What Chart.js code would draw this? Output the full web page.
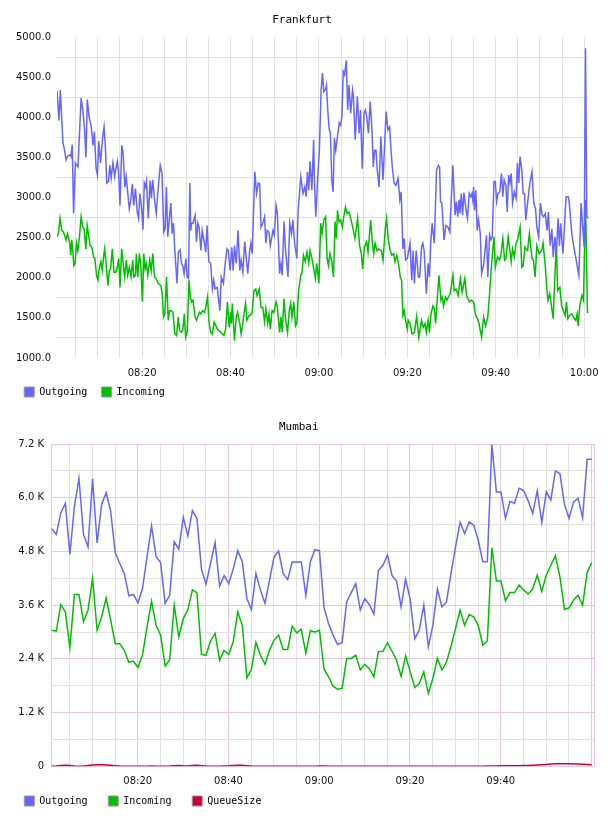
<!DOCTYPE html>
<html>
<head>
<meta charset="utf-8">
<title>Frankfurt / Mumbai traffic</title>
<script src="https://cdn.jsdelivr.net/npm/chart.js@4.4.1/dist/chart.umd.min.js"></script>
<style>
  html, body { margin: 0; padding: 0; background: #fff; }
  canvas { display: block; }
</style>
</head>
<body>
<canvas id="frankfurt" width="608" height="407"></canvas>
<canvas id="mumbai" width="608" height="409"></canvas>
<script>
// minutes after 08:00 -> value
const frankfurtOutgoing = [
  [0.75,4330],[1.2,3960],[1.5,4340],[2.1,3680],[2.4,3610],[2.8,3470],[3.2,3520],[3.7,3530],[3.9,3510],[4.2,3660],
  [4.5,2800],[4.9,3430],[5.5,3380],[6.2,4240],[6.6,4090],[7.0,3840],[7.3,3500],[7.6,4220],[8.0,4010],[8.5,3880],
  [8.9,3650],[9.2,3820],[9.6,3360],[9.9,3280],[10.2,3700],[10.6,3430],[11.1,3760],[11.4,3880],[11.7,3630],[12.0,3180],
  [12.4,3200],[12.7,3400],[13.0,3240],[13.4,3430],[13.8,3260],[14.0,3340],[14.4,3450],[14.7,3300],[15.0,2900],[15.4,3650],
  [15.7,3550],[16.1,3130],[16.4,3260],[16.7,3090],[17.1,2860],[17.4,2950],[17.8,3170],[18.1,2900],[18.5,3110],[18.9,2820],
  [19.2,2740],[19.5,3050],[19.9,2860],[20.2,2600],[20.5,3180],[20.8,3130],[21.0,3200],[21.4,2740],[21.8,3210],[22.1,2990],
  [22.4,3220],[22.9,2930],[23.2,2800],[23.6,3090],[24.1,3400],[24.5,3300],[24.9,2570],[25.2,2610],[25.5,3130],[25.8,2510],
  [26.1,2700],[26.5,2930],[26.8,2550],[27.1,2680],[27.4,2340],[27.9,1930],[28.2,2320],[28.6,2350],[28.9,2180],[29.2,2150],
  [29.5,2050],[29.9,2240],[30.2,2010],[30.5,1990],[30.8,3180],[31.0,2590],[31.2,2680],[31.5,2680],[32.0,2780],[32.3,2450],
  [32.6,2680],[32.9,2630],[33.3,2340],[33.6,2590],[34.1,2430],[34.4,2320],[34.7,2650],[35.1,2200],[35.5,2180],[35.9,1860],
  [36.2,1970],[36.5,1860],[37.0,1880],[37.6,1590],[37.9,2010],[38.4,1930],[38.8,2180],[39.2,2360],[39.5,2340],[39.9,2090],
  [40.3,2380],[40.6,2090],[40.9,2400],[41.3,2180],[41.7,2590],[42.1,2090],[42.4,2220],[42.8,2070],[43.2,2450],[43.6,2220],
  [43.9,2050],[44.3,2320],[44.6,2430],[44.9,2300],[45.5,3320],[45.9,3050],[46.3,3180],[46.6,3170],[46.9,2630],[47.3,2680],
  [47.7,2760],[48.0,2430],[48.3,2590],[48.7,2570],[49.0,2400],[49.6,2590],[49.9,2530],[50.3,2900],[50.6,2800],[51.1,2050],
  [51.4,2180],[51.7,2030],[52.1,2700],[52.4,2380],[53.0,2010],[53.4,2680],[53.8,2550],[54.1,2720],[54.5,2430],[55.0,2240],
  [55.3,2840],[55.9,3260],[56.4,3050],[56.8,3130],[57.1,3010],[57.4,3320],[57.7,3090],[58.0,3450],[58.4,3090],[58.8,3720],
  [59.0,3180],[59.3,2760],[59.7,3220],[60.1,3590],[60.5,4340],[60.8,4550],[61.1,4320],[61.5,4350],[61.7,4400],[62.0,4090],
  [62.3,3860],[62.6,3800],[62.9,3220],[63.2,3070],[63.5,3740],[63.8,3590],[64.1,3720],[64.6,3930],[64.9,3900],[65.2,4010],
  [65.5,4570],[65.8,4530],[66.2,4710],[66.5,4090],[66.8,4400],[67.2,4050],[67.6,4340],[67.8,4260],[68.2,3720],[68.7,4260],
  [69.1,3800],[69.4,4090],[69.8,3360],[70.2,4050],[70.5,4090],[70.8,4010],[71.2,3800],[71.6,4200],[72.0,3840],[72.3,3380],
  [72.6,3590],[72.9,3590],[73.2,3340],[73.6,3130],[74.0,3760],[74.5,3220],[75.2,4070],[75.6,3840],[76.0,3880],[76.3,3590],
  [76.6,3380],[77.0,3180],[77.4,3150],[77.9,3240],[78.3,2970],[78.6,3070],[79.0,2360],[79.3,2490],[79.6,2220],[80.0,2240],
  [80.6,2430],[81.0,1970],[81.3,2340],[81.6,1930],[82.0,2340],[82.5,2010],[82.8,2010],[83.2,2380],[83.5,2430],[83.8,2340],
  [84.3,1800],[84.7,2180],[85.0,2010],[85.3,2430],[85.6,2680],[86.1,2430],[86.6,3340],[87.0,3400],[87.3,3380],[87.5,2950],
  [87.8,2930],[88.3,2470],[88.7,2650],[89.2,2630],[89.6,2570],[90.3,3400],[90.8,2780],[91.1,2950],[91.4,2760],[91.7,2970],
  [91.9,2800],[92.2,3050],[92.5,2780],[92.8,3060],[93.2,2880],[93.6,2740],[94.0,3050],[94.3,3010],[94.6,3050],[94.8,2970],
  [95.0,3130],[95.2,2840],[95.5,3090],[95.8,2590],[96.1,2720],[96.5,2550],[96.8,2050],[97.3,2180],[97.9,2530],[98.2,2010],
  [98.6,2530],[98.9,2470],[99.2,2510],[99.6,3200],[99.9,3200],[100.2,2950],[100.5,3050],[100.9,3070],[101.3,3300],[101.6,3010],
  [101.9,3220],[102.3,3150],[102.6,2820],[102.9,3280],[103.2,3180],[103.5,3300],[103.8,2930],[104.2,3070],[104.6,2990],[104.9,3430],
  [105.2,3180],[105.5,3510],[105.9,3340],[106.2,3050],[106.5,3050],[106.8,2720],[107.1,2880],[107.7,3180],[108.2,3320],[108.6,2930],
  [109.0,2860],[109.3,2630],[109.7,2510],[110.1,2930],[110.5,2780],[110.8,2760],[111.2,2800],[111.6,2590],[111.9,2820],[112.3,2400],
  [112.7,2610],[113.0,2260],[113.4,2510],[113.7,2300],[114.1,2740],[114.4,2400],[114.7,2680],[115.0,2430],[115.2,2300],[115.5,2590],
  [115.9,3010],[116.4,3010],[116.6,2950],[117.2,2550],[117.5,2430],[117.8,2340],[118.2,2220],[118.6,2090],[118.8,2030],[119.3,2930],
  [119.6,2680],[120.0,2380],[120.3,4860],[120.6,2760],[121.0,2740]
];

const frankfurtIncoming = [
  [0.75,2510],[1.06,2550],[1.44,2740],[1.82,2590],[2.2,2570],[2.58,2510],[2.8,2470],[3.1,2550],[3.33,2510],[3.64,2430],
  [3.86,2280],[4.09,2470],[4.32,2340],[4.55,2150],[4.85,2180],[5.15,2430],[5.45,2340],[5.83,2510],[6.21,2760],[6.59,2630],
  [6.89,2610],[7.27,2360],[7.58,2650],[7.95,2510],[8.26,2400],[8.64,2380],[9.02,2260],[9.32,2240],[9.7,2030],[10.0,1970],
  [10.3,2110],[10.68,2200],[10.99,2090],[11.29,2260],[11.52,2360],[11.82,2200],[12.27,1900],[12.58,2090],[12.88,2110],[13.26,2360],
  [13.64,2070],[14.02,2070],[14.39,2130],[14.7,2240],[15.0,1880],[15.38,2360],[15.76,2150],[16.06,2010],[16.44,2220],[16.74,2030],
  [17.12,2130],[17.5,2010],[17.88,2220],[18.11,2010],[18.49,2030],[18.71,2300],[19.02,2010],[19.39,2300],[19.7,2150],[20.08,1700],
  [20.38,2300],[20.68,2110],[20.98,2180],[21.29,2030],[21.74,2220],[22.05,2090],[22.42,2300],[22.8,2010],[23.18,1990],[23.64,1930],
  [24.24,1900],[24.55,1800],[24.85,1510],[25.15,1550],[25.53,2010],[25.91,1470],[26.21,1590],[26.59,1590],[26.97,1570],[27.42,1300],
  [27.8,1280],[28.18,1510],[28.48,1340],[28.94,1320],[29.24,1360],[29.55,1550],[29.85,1260],[30.23,1340],[30.61,1970],[30.91,1760],
  [31.2,1700],[31.5,1720],[32.0,1510],[32.3,1470],[32.7,1530],[33.0,1570],[33.3,1550],[33.7,1590],[34.1,1570],[34.4,1630],
  [34.8,1760],[35.1,1470],[35.5,1320],[35.9,1300],[36.3,1450],[36.7,1400],[37.0,1360],[37.4,1340],[37.8,1320],[38.2,1300],
  [38.5,1280],[38.9,1360],[39.3,1700],[39.7,1380],[40.0,1570],[40.2,1430],[40.4,1680],[40.9,1220],[41.3,1510],[41.6,1570],
  [42.1,1430],[42.4,1300],[42.7,1400],[43.0,1530],[43.4,1680],[43.7,1470],[44.2,1530],[44.5,1530],[44.9,1570],[45.3,1840],
  [45.7,1860],[46.0,1780],[46.5,1860],[46.9,1630],[47.3,1630],[47.7,1450],[48.0,1610],[48.4,1430],[48.7,1550],[49.0,1360],
  [49.4,1590],[49.8,1570],[50.3,1700],[50.6,1630],[51.1,1320],[51.4,1510],[51.7,1320],[52.1,1740],[52.4,1510],[52.9,1320],
  [53.3,1590],[53.6,1680],[53.9,1510],[54.3,1700],[54.7,1400],[55.0,1430],[55.4,1840],[55.9,2030],[56.2,2070],[56.5,2280],
  [56.9,2200],[57.3,2320],[57.7,2180],[58.0,2340],[58.5,2220],[59.2,1990],[59.5,2180],[60.0,1930],[60.4,2680],[60.7,2550],
  [61.1,2720],[61.5,2760],[61.85,2240],[62.15,2150],[62.5,2300],[62.9,2200],[63.3,2010],[63.65,2700],[63.95,2490],[64.2,2840],
  [64.55,2700],[64.9,2720],[65.3,2630],[65.5,2720],[66.0,2880],[66.35,2800],[66.8,2820],[67.2,2740],[67.8,2590],[68.15,2490],
  [68.75,2740],[69.2,2400],[69.6,2300],[69.9,2110],[70.3,2380],[70.8,2450],[71.1,2320],[71.4,2510],[71.7,2720],[72.1,2430],
  [72.4,2300],[72.7,2430],[73.1,2340],[73.5,2360],[74.1,2340],[74.5,2220],[75.0,2610],[75.3,2740],[75.7,2470],[76.1,2340],
  [76.5,2280],[76.9,2300],[77.2,2200],[77.6,2280],[78.0,2180],[78.4,2010],[78.7,1970],[79.0,1530],[79.3,1590],[79.6,1470],
  [80.0,1360],[80.2,1470],[80.6,1430],[81.1,1300],[81.6,1320],[82.1,1520],[82.6,1260],[83.2,1470],[83.6,1380],[84.0,1430],
  [84.3,1320],[84.7,1470],[85.0,1320],[85.35,1550],[85.8,1650],[86.1,1610],[86.4,1430],[86.85,1800],[87.15,2030],[87.6,1720],
  [87.9,1760],[88.2,1650],[88.6,1760],[88.95,1720],[89.3,1760],[89.7,1800],[90.3,2030],[90.6,1840],[91.0,1860],[91.5,1780],
  [92.0,1990],[92.4,1820],[93.0,1990],[93.4,1780],[93.7,1740],[94.1,1700],[94.5,1720],[95.0,1700],[95.45,1530],[95.9,1490],
  [96.2,1430],[96.8,1260],[97.25,1510],[97.7,1400],[98.2,1510],[98.6,1800],[99.0,2130],[99.6,2510],[99.9,2130],[100.4,2260],
  [100.8,2220],[101.1,2260],[101.6,2490],[102.0,2220],[102.3,2240],[102.8,2510],[103.2,2340],[103.5,2200],[103.8,2360],[104.2,2260],
  [104.6,2430],[105.0,2490],[105.5,2630],[105.9,2130],[106.2,2150],[106.6,2380],[106.8,2360],[107.2,2340],[107.6,2550],[108.2,2240],
  [108.5,2220],[108.9,2010],[109.3,2400],[109.8,2300],[110.4,2340],[110.7,2430],[111.2,2150],[111.5,1900],[111.8,1720],[112.2,1800],
  [113.0,1490],[113.4,2050],[113.7,2430],[114.0,1840],[114.5,1880],[114.9,1650],[115.3,1590],[115.7,1530],[116.0,1700],[116.3,1490],
  [116.7,1530],[117.2,1550],[117.6,1510],[118.1,1470],[118.4,1550],[118.65,1400],[119.0,1650],[119.5,1780],[119.85,1720],[120.3,2970],
  [120.75,1570],[121.0,1570]
];

const frankfurtRange = [0.75, 121.0];
const frankfurtTimeTicks = [5, 10, 15, 20, 25, 30, 35, 40, 45, 50, 55, 60, 65, 70, 75, 80, 85, 90, 95, 100, 105, 110, 115, 120];
const frankfurtTimeLabels = [20, 40, 60, 80, 100, 120];
const frankfurtValueTicks = [1000, 1500, 2000, 2500, 3000, 3500, 4000, 4500, 5000];

// Mumbai: one sample a minute
const mumbaiStartMinute = 1.05;
const mumbaiStepMinutes = 1;
const mumbaiOutgoing = [
  5310, 5180, 5660, 5870, 4740, 5800, 6430, 5180, 4900, 6420,
  4990, 5850, 6110, 5690, 4770, 4530, 4310, 3810, 3840, 3650,
  3970, 4680, 5370, 4680, 4550, 3640, 3820, 5020, 4850, 5560,
  5140, 5710, 5540, 4400, 4070, 4530, 5000, 4025, 4260, 4080,
  4405, 4815, 4570, 3750, 3500, 4310, 3935, 3640, 4160, 4680,
  4810, 4310, 4170, 4570, 4560, 4570, 3820, 4570, 4840, 4820,
  3550, 3190, 2930, 2720, 2760, 3670, 3880, 4080, 3490, 3750,
  3610, 3400, 4380, 4490, 4720, 4260, 4140, 3560, 4180, 3730,
  2850, 3040, 3600, 2670, 3150, 3960, 3560, 3670, 4310, 4900,
  5450, 5200, 5460, 5390, 5050, 4570, 4570, 7180, 6130, 6130,
  5540, 5920, 5870, 6210, 6160, 5930, 5650, 6150, 5450, 6130,
  5950, 6600, 6540, 5850, 5540, 5900, 5990, 5550, 6860, 6860
];
const mumbaiIncoming = [
  3040, 3020, 3610, 3450, 2650, 3840, 3840, 3230, 3490, 4200,
  3040, 3340, 3760, 3260, 2740, 2740, 2590, 2320, 2350, 2210,
  2480, 3110, 3690, 3150, 2930, 2240, 2380, 3600, 2890, 3300,
  3490, 3940, 3880, 2500, 2480, 2800, 2970, 2370, 2590, 2500,
  2780, 3450, 3150, 1980, 2160, 2770, 2480, 2280, 2590, 2820,
  2930, 2610, 2610, 3130, 2980, 3060, 2530, 3030, 3000, 3040,
  2180, 2000, 1790, 1720, 1740, 2410, 2410, 2480, 2160, 2280,
  2180, 2000, 2560, 2570, 2760, 2570, 2370, 2010, 2470, 2110,
  1760, 1850, 2110, 1630, 1960, 2410, 2150, 2330, 2680, 3080,
  3490, 3150, 3390, 3340, 3150, 2710, 2800, 4880, 4140, 4140,
  3700, 3880, 3880, 4050, 3940, 3850, 3960, 4270, 3910, 4270,
  4490, 4700, 4230, 3510, 3540, 3710, 3820, 3600, 4330, 4550
];
const mumbaiQueueSize = [
  0, 5, 20, 25, 20, 5, 0, 5, 20, 30,
  35, 35, 30, 25, 15, 5, 0, 0, 0, 0,
  0, 0, 5, 0, 0, 0, 5, 15, 20, 10,
  5, 20, 25, 15, 5, 0, 0, 0, 5, 10,
  20, 25, 25, 15, 5, 0, 0, 0, 0, 0,
  0, 0, 0, 0, 0, 0, 0, 0, 0, 5,
  5, 0, 0, 0, 0, 0, 0, 0, 0, 0,
  0, 0, 0, 0, 0, 0, 0, 0, 0, 0,
  0, 0, 0, 0, 0, 0, 0, 0, 0, 0,
  0, 0, 0, 0, 0, 0, 5, 5, 5, 10,
  10, 10, 15, 15, 20, 20, 25, 30, 35, 40,
  50, 55, 55, 55, 55, 50, 50, 45, 40, 35
];

const mumbaiRange = [0.89, 120.56];
const mumbaiTimeTicks = [5, 10, 15, 20, 25, 30, 35, 40, 45, 50, 55, 60, 65, 70, 75, 80, 85, 90, 95, 100, 105, 110, 115, 120];
const mumbaiTimeLabels = [20, 40, 60, 80, 100];
const mumbaiValueTicks = [0, 600, 1200, 1800, 2400, 3000, 3600, 4200, 4800, 5400, 6000, 6600, 7200];
const mumbaiValueLabels = [0, 1200, 2400, 3600, 4800, 6000, 7200];

const OUT_COLOR = '#6666ff';
const IN_COLOR = '#00bf00';
const QUEUE_COLOR = '#cc0033';
const gridGray = '#e2e2e2';
const gridPink = '#e6c8e6';
const MONO = "'DejaVu Sans Mono', monospace";

Chart.defaults.font.family = "'DejaVu Sans', sans-serif";
Chart.defaults.font.size = 10;
Chart.defaults.color = '#111';

function clock(minutes) {
  const h = 8 + Math.floor(minutes / 60);
  const m = minutes % 60;
  return String(h).padStart(2, '0') + ':' + String(m).padStart(2, '0');
}

function toPoints(pairs) {
  return pairs.map(([x, y]) => ({ x, y }));
}

function minuteSeries(values) {
  return values.map((y, i) => ({ x: mumbaiStartMinute + i * mumbaiStepMinutes, y }));
}

function lineSet(label, color, points) {
  return {
    label,
    data: points,
    borderColor: color,
    backgroundColor: color,
    borderWidth: 1.5,
    pointRadius: 0,
    tension: 0,
    fill: false
  };
}

function legendLabels(chart) {
  return chart.data.datasets.map((ds, i) => ({
    text: ds.label,
    fillStyle: ds.borderColor,
    strokeStyle: '#9a9a9a',
    lineWidth: 1,
    hidden: false,
    datasetIndex: i,
    fontColor: '#000'
  }));
}

function buildChart(canvasId, cfg) {
  return new Chart(document.getElementById(canvasId), {
    type: 'line',
    data: { datasets: cfg.datasets },
    options: {
      responsive: false,
      animation: false,
      events: [],
      layout: { padding: { left: cfg.padLeft, right: 14, top: 0, bottom: 0 } },
      plugins: {
        title: {
          display: true,
          text: cfg.title,
          color: '#000',
          font: { family: MONO, size: 11, weight: 'normal' },
          padding: { top: 14, bottom: 9.8 }
        },
        legend: {
          position: 'bottom',
          align: 'start',
          labels: {
            boxWidth: 10,
            boxHeight: 10,
            padding: cfg.legendGap,
            color: '#000',
            font: { family: MONO, size: 10 },
            generateLabels: legendLabels
          }
        },
        tooltip: { enabled: false }
      },
      scales: {
        x: {
          type: 'linear',
          min: cfg.xRange[0],
          max: cfg.xRange[1],
          afterBuildTicks: (scale) => {
            const ticks = cfg.xTicks.map((v) => ({ value: v }));
            scale.ticks = cfg.xBounds ? [{ value: scale.min }, ...ticks, { value: scale.max }] : ticks;
          },
          afterFit: (scale) => {
            // squeeze the axis so the legend sits close; keep labels unclipped
            scale.height = cfg.xHeight;
            scale._computeLabelArea = () => null;
          },
          border: { display: false },
          grid: { color: cfg.xGridColor, drawTicks: false, lineWidth: 1 },
          ticks: {
            padding: cfg.xPad,
            autoSkip: false,
            maxRotation: 0,
            color: '#111',
            callback: (v) => (cfg.xLabels.includes(v) ? clock(v) : '')
          }
        },
        y: {
          type: 'linear',
          min: cfg.yTicks[0],
          max: cfg.yTicks[cfg.yTicks.length - 1],
          afterBuildTicks: (scale) => { scale.ticks = cfg.yTicks.map((v) => ({ value: v })); },
          afterFit: (scale) => { scale.width = cfg.yWidth; },
          border: { display: false },
          grid: { color: cfg.yGridColor, offset: cfg.yGridOffset, drawTicks: false, lineWidth: 1 },
          ticks: {
            padding: cfg.yPad,
            autoSkip: false,
            color: '#111',
            callback: cfg.yFormat
          }
        }
      }
    }
  });
}

buildChart('frankfurt', {
  title: 'Frankfurt',
  datasets: [
    lineSet('Outgoing', OUT_COLOR, toPoints(frankfurtOutgoing)),
    lineSet('Incoming', IN_COLOR, toPoints(frankfurtIncoming))
  ],
  padLeft: 10,
  legendGap: 14.2,
  xRange: frankfurtRange,
  xTicks: frankfurtTimeTicks,
  xLabels: frankfurtTimeLabels,
  xBounds: false,
  xHeight: 14.8,
  xPad: 9.3,
  xGridColor: gridGray,
  yTicks: frankfurtValueTicks,
  yWidth: 47,
  yPad: 6,
  yGridColor: gridGray,
  yGridOffset: true,
  yFormat: (v) => v.toFixed(1)
});

buildChart('mumbai', {
  title: 'Mumbai',
  datasets: [
    lineSet('Outgoing', OUT_COLOR, minuteSeries(mumbaiOutgoing)),
    lineSet('Incoming', IN_COLOR, minuteSeries(mumbaiIncoming)),
    lineSet('QueueSize', QUEUE_COLOR, minuteSeries(mumbaiQueueSize))
  ],
  padLeft: 3.5,
  legendGap: 20.8,
  xRange: mumbaiRange,
  xTicks: mumbaiTimeTicks,
  xLabels: mumbaiTimeLabels,
  xBounds: true,
  xHeight: 8.9,
  xPad: 9.4,
  xGridColor: (ctx) => {
    const v = ctx.tick ? ctx.tick.value : 0;
    return (v % 20 === 0 || v === ctx.scale.min || v === ctx.scale.max) ? gridPink : gridGray;
  },
  yTicks: mumbaiValueTicks,
  yWidth: 47.5,
  yPad: 7,
  yGridColor: (ctx) => (ctx.tick && mumbaiValueLabels.includes(ctx.tick.value) ? gridPink : gridGray),
  yGridOffset: false,
  yFormat: (v) => (mumbaiValueLabels.includes(v) ? (v === 0 ? '0' : (v / 1000).toFixed(1) + ' K') : '')
});
</script>
</body>
</html>
